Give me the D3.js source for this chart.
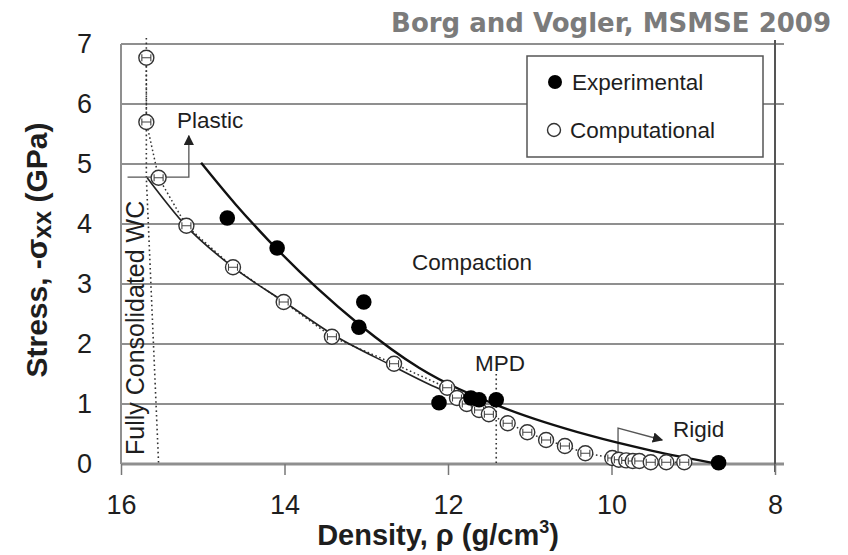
<!DOCTYPE html>
<html>
<head>
<meta charset="utf-8">
<script src="https://cdn.jsdelivr.net/npm/d3@7/dist/d3.min.js"></script>
<style>
  html, body { margin: 0; padding: 0; background: #fff; }
  svg { display: block; }
  text { font-family: "Liberation Sans", Arial, sans-serif; fill: #1e1e1e; }
</style>
</head>
<body>
<svg id="chart" width="848" height="555"></svg>
<script>
// Axis ticks
const xTicks = [16, 14, 12, 10, 8];
const yTicks = [0, 1, 2, 3, 4, 5, 6, 7];

// Experimental measurements (density g/cm3, stress GPa)
const expDensity = [14.70, 14.09, 13.03, 13.09, 12.11, 11.72, 11.62, 11.41, 8.69];
const expStress  = [4.10, 3.60, 2.70, 2.28, 1.02, 1.10, 1.07, 1.07, 0.02];

// Computational results
const compDensity = [15.69, 15.69, 15.54, 15.20, 14.63, 14.01, 13.42, 12.66, 12.01, 11.89,
                     11.77, 11.62, 11.50, 11.27, 11.03, 10.80, 10.57, 10.32, 9.99, 9.91,
                     9.82, 9.74, 9.66, 9.52, 9.33, 9.11];
const compStress  = [6.77, 5.70, 4.77, 3.97, 3.28, 2.70, 2.12, 1.67, 1.27, 1.10,
                     1.00, 0.90, 0.83, 0.68, 0.53, 0.40, 0.30, 0.18, 0.10, 0.07,
                     0.06, 0.05, 0.05, 0.03, 0.03, 0.03];

// Trend curves
const expFitDensity = [15.02, 14.60, 14.19, 13.60, 13.09, 12.35, 11.38, 10.28, 9.50, 8.68];
const expFitStress  = [5.02, 4.33, 3.72, 2.93, 2.33, 1.60, 0.97, 0.48, 0.22, 0.00];
const compFitDensity = [15.68, 15.20, 14.63, 14.00, 13.40, 12.70, 12.20, 11.80, 11.45];
const compFitStress  = [4.77, 3.96, 3.28, 2.70, 2.15, 1.65, 1.31, 1.08, 0.88];

// Reference lines
const consolidatedDensity = [15.69, 15.69, 15.54];
const consolidatedStress  = [7.10, 4.77, 0.00];
const mpdDensity = 11.41;
const mpdTopStress = 1.50;

const svg = d3.select("#chart");

const x = d3.scaleLinear().domain([16, 8]).range([121, 775]);
const y = d3.scaleLinear().domain([0, 7]).range([464, 44]);

const zip = (a, b) => a.map((v, i) => [v, b[i]]);
const line = d3.line().x(d => x(d[0])).y(d => y(d[1]));

// Horizontal gridlines
svg.append("g").selectAll("line").data(yTicks).join("line")
  .attr("x1", x(16)).attr("x2", x(8) + 9)
  .attr("y1", d => y(d)).attr("y2", d => y(d))
  .attr("stroke", "#8f8f8f").attr("stroke-width", d => d === 0 ? 3 : 2);

// Frame sides
svg.append("line").attr("x1", x(16)).attr("x2", x(16)).attr("y1", y(7)).attr("y2", y(0))
  .attr("stroke", "#8f8f8f").attr("stroke-width", 2);
svg.append("line").attr("x1", x(8)).attr("x2", x(8)).attr("y1", y(7) - 4).attr("y2", y(0) + 8)
  .attr("stroke", "#555").attr("stroke-width", 2);

// X axis ticks and labels
const xAxis = d3.axisBottom(x).tickValues(xTicks).tickSize(11).tickPadding(20)
  .tickFormat(d3.format("d"));
const gx = svg.append("g").attr("transform", `translate(0,${y(0)})`).call(xAxis);
gx.select(".domain").remove();
gx.selectAll(".tick line").attr("stroke", "#777").attr("stroke-width", 1.5);
gx.selectAll(".tick text").style("font-size", "27px").style("fill", "#1e1e1e");

// Y axis labels
const yAxis = d3.axisLeft(y).tickValues(yTicks).tickSize(0).tickPadding(29)
  .tickFormat(d3.format("d"));
const gy = svg.append("g").attr("transform", `translate(${x(16)},0)`).call(yAxis);
gy.select(".domain").remove();
gy.selectAll(".tick text").style("font-size", "27px").style("fill", "#1e1e1e");

// Axis titles
const xTitle = svg.append("text").attr("x", 438).attr("y", 545)
  .attr("text-anchor", "middle").attr("font-size", 29).attr("font-weight", "bold");
xTitle.append("tspan").text("Density, ρ (g/cm");
xTitle.append("tspan").attr("font-size", 18).attr("dy", -12).text("3");
xTitle.append("tspan").attr("dy", 12).text(")");

const yTitle = svg.append("text").attr("transform", "translate(47,250) rotate(-90)")
  .attr("text-anchor", "middle").attr("font-size", 30).attr("font-weight", "bold");
yTitle.append("tspan").text("Stress, -σ");
yTitle.append("tspan").attr("font-size", 25).attr("dy", 4).text("xx");
yTitle.append("tspan").attr("dy", -4).text(" (GPa)");

// Dotted reference lines
svg.append("path").datum(zip(consolidatedDensity, consolidatedStress))
  .attr("d", line).attr("fill", "none").attr("stroke", "#333")
  .attr("stroke-width", 1.6).attr("stroke-dasharray", "1.6,3");
svg.append("line").attr("x1", x(mpdDensity)).attr("x2", x(mpdDensity))
  .attr("y1", y(mpdTopStress)).attr("y2", y(0))
  .attr("stroke", "#333").attr("stroke-width", 1.6).attr("stroke-dasharray", "1.6,3");

// Arrowhead
svg.append("defs").append("marker").attr("id", "arrow")
  .attr("viewBox", "0 0 10 10").attr("refX", 9).attr("refY", 5)
  .attr("markerWidth", 8).attr("markerHeight", 8).attr("orient", "auto")
  .append("path").attr("d", "M0,0 L10,5 L0,10 z").attr("fill", "#222");

// Plastic arrow
svg.append("path")
  .attr("d", `M${x(15.92)},${y(4.78)} H${x(15.17)} V${y(5.47)}`)
  .attr("fill", "none").attr("stroke", "#555").attr("stroke-width", 1.3)
  .attr("marker-end", "url(#arrow)");
// Rigid arrow
svg.append("path")
  .attr("d", `M${x(9.92)},${y(0)} V${y(0.60)} L${x(9.38)},${y(0.40)}`)
  .attr("fill", "none").attr("stroke", "#555").attr("stroke-width", 1.3)
  .attr("marker-end", "url(#arrow)");

// Curves
const smooth = d3.line().x(d => x(d[0])).y(d => y(d[1])).curve(d3.curveMonotoneX);
svg.append("path").datum(zip(compDensity, compStress)).attr("d", line)
  .attr("fill", "none").attr("stroke", "#333").attr("stroke-width", 1.5)
  .attr("stroke-dasharray", "1.6,2.6");
svg.append("path").datum(zip(compFitDensity, compFitStress)).attr("d", smooth)
  .attr("fill", "none").attr("stroke", "#222").attr("stroke-width", 1.6);
svg.append("path").datum(zip(expFitDensity, expFitStress)).attr("d", smooth)
  .attr("fill", "none").attr("stroke", "#111").attr("stroke-width", 2.4);

// Computational markers with error bars
const cg = svg.append("g").selectAll("g").data(zip(compDensity, compStress)).join("g")
  .attr("transform", d => `translate(${x(d[0])},${y(d[1])})`);
cg.append("circle").attr("r", 7.5).attr("fill", "#fff")
  .attr("stroke", "#333").attr("stroke-width", 1.4);
cg.append("path").attr("d", "M-4.5,0 H4.5 M-4.5,-3.5 V3.5 M4.5,-3.5 V3.5")
  .attr("stroke", "#444").attr("stroke-width", 1.1).attr("fill", "none");

// Experimental markers
svg.append("g").selectAll("circle").data(zip(expDensity, expStress)).join("circle")
  .attr("cx", d => x(d[0])).attr("cy", d => y(d[1])).attr("r", 7.8).attr("fill", "#000");

// Region labels
const lab = (t, px, py, size) => svg.append("text").attr("x", px).attr("y", py)
  .attr("font-size", size || 22.5).text(t);
lab("Plastic", 177, 128);
lab("Compaction", 412, 270);
lab("MPD", 475, 371);
lab("Rigid", 673, 437);
svg.append("text").attr("transform", "translate(144,455) rotate(-90)")
  .attr("font-size", 25).text("Fully Consolidated WC");

// Legend
const lg = svg.append("g");
lg.append("rect").attr("x", 527).attr("y", 56).attr("width", 236).attr("height", 101)
  .attr("fill", "#fff").attr("stroke", "#555").attr("stroke-width", 1.5);
lg.append("circle").attr("cx", 555).attr("cy", 82).attr("r", 7).attr("fill", "#000");
lg.append("circle").attr("cx", 554).attr("cy", 130).attr("r", 6.5).attr("fill", "#fff")
  .attr("stroke", "#333").attr("stroke-width", 1.4);
lg.append("text").attr("x", 572).attr("y", 90).attr("font-size", 22.5).text("Experimental");
lg.append("text").attr("x", 570).attr("y", 138).attr("font-size", 22.5).text("Computational");

// Citation
svg.append("text").attr("x", 831).attr("y", 32).attr("text-anchor", "end")
  .style("font-family", "'DejaVu Sans', Verdana, sans-serif").style("font-weight", "bold")
  .style("font-size", "26px").style("fill", "#7b7b7b").text("Borg and Vogler, MSMSE 2009");
</script>
</body>
</html>
